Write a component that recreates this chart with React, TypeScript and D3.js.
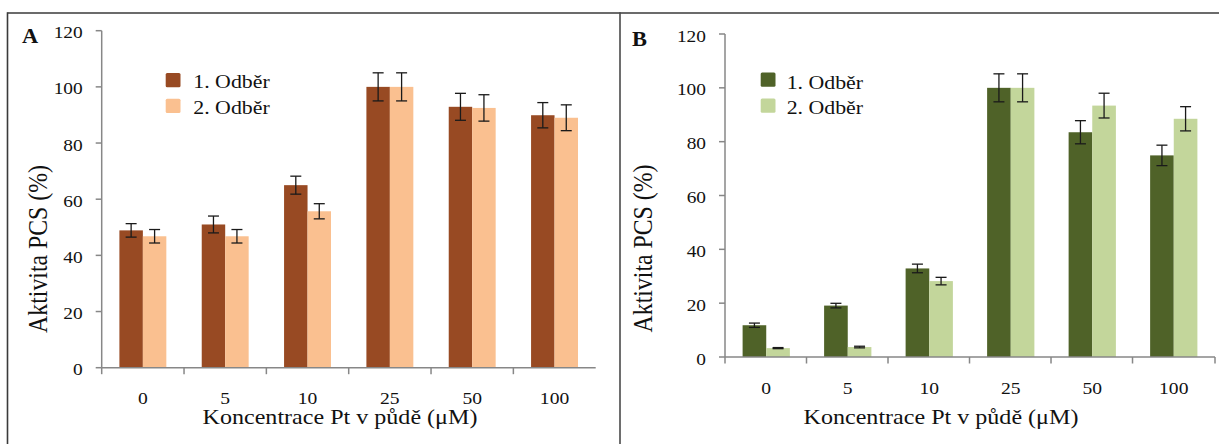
import React from 'react';
import * as d3 from 'd3';

const categories = ['0', '5', '10', '25', '50', '100'];
const seriesNames = ['1. Odběr', '2. Odběr'];
const yTicks = [0, 20, 40, 60, 80, 100, 120];

const aFirst = [48.9, 51.0, 65.0, 100.0, 92.9, 89.9];
const aFirstErr = [2.4, 3.0, 3.2, 5.0, 4.8, 4.5];
const aSecond = [46.8, 46.8, 55.7, 100.0, 92.5, 89.0];
const aSecondErr = [2.4, 2.4, 2.7, 5.0, 4.7, 4.6];

const bFirst = [11.8, 19.1, 32.9, 100.0, 83.5, 74.9];
const bFirstErr = [0.8, 0.85, 1.6, 5.2, 4.3, 3.8];
const bSecond = [3.3, 3.7, 28.2, 100.0, 93.4, 88.5];
const bSecondErr = [0.2, 0.3, 1.4, 5.2, 4.6, 4.5];

const FONT = '"Liberation Serif", "Times New Roman", serif';
const SX = 1.12;

type PanelCfg = {
  label: string;
  values: number[][];
  errors: number[][];
  colors: string[];
  x0: number; x1: number; yTop: number; yBottom: number;
  padIn: number; padOut: number;
  labelPos: [number, number];
  legend: { swX: number; swY: number[]; tx: number; ty: number[] };
  yTitle: [number, number];
  xTitle: [number, number];
  xLabelY: number;
  endTick: boolean;
};

const panels: PanelCfg[] = [
  {
    label: 'A',
    values: [aFirst, aSecond],
    errors: [aFirstErr, aSecondErr],
    colors: ['#984A23', '#FAC090'],
    x0: 101.7, x1: 595.7, yTop: 30.7, yBottom: 367.7,
    padIn: 0.43, padOut: 0.215,
    labelPos: [22, 42.5],
    legend: { swX: 165.7, swY: [73, 98.7], tx: 193.3, ty: [88.3, 114] },
    yTitle: [46.5, 249],
    xTitle: [340, 424],
    xLabelY: 404,
    endTick: false,
  },
  {
    label: 'B',
    values: [bFirst, bSecond],
    errors: [bFirstErr, bSecondErr],
    colors: ['#4F6228', '#C3D69B'],
    x0: 725, x1: 1215, yTop: 34, yBottom: 357,
    padIn: 0.42, padOut: 0.216,
    labelPos: [632, 45.5],
    legend: { swX: 760.7, swY: [72.5, 98.5], tx: 786.7, ty: [88.7, 114] },
    yTitle: [651.5, 248.5],
    xTitle: [941, 424],
    xLabelY: 394,
    endTick: true,
  },
];

function SText(props: { x: number; y: number; size: number; anchor?: string; weight?: string; rotate?: boolean; children: React.ReactNode }) {
  const { x, y, size, anchor = 'start', weight = 'normal', rotate = false, children } = props;
  return (
    <text
      transform={`translate(${x},${y}) scale(${SX},1)${rotate ? ' rotate(-90)' : ''}`}
      fontFamily={FONT}
      fontSize={size}
      fontWeight={weight}
      textAnchor={anchor}
      fill="#111"
    >
      {children}
    </text>
  );
}

function Panel({ cfg }: { cfg: PanelCfg }) {
  const x = d3.scaleBand<string>().domain(categories).range([cfg.x0, cfg.x1]).paddingInner(cfg.padIn).paddingOuter(cfg.padOut);
  const xs = d3.scaleBand<string>().domain(['0', '1']).range([0, x.bandwidth()]);
  const y = d3.scaleLinear().domain([0, 120]).range([cfg.yBottom, cfg.yTop]);
  const step = x.step();
  const boundaries = categories.map((_, i) => cfg.x0 + i * step);
  if (cfg.endTick) boundaries.push(cfg.x1);
  const axisColor = '#878787';

  return (
    <g>
      {/* bars */}
      {cfg.values.map((vals, s) =>
        vals.map((v, i) => (
          <rect
            key={`b${s}-${i}`}
            x={(x(categories[i]) as number) + (xs(String(s)) as number)}
            y={y(v)}
            width={xs.bandwidth()}
            height={y(0) - y(v)}
            fill={cfg.colors[s]}
          />
        ))
      )}
      {/* error bars */}
      {cfg.values.map((vals, s) =>
        vals.map((v, i) => {
          const cx = (x(categories[i]) as number) + (xs(String(s)) as number) + xs.bandwidth() / 2;
          const e = cfg.errors[s][i];
          const yt = y(v + e);
          const yb = y(v - e);
          return (
            <g key={`e${s}-${i}`} stroke="#1a1a1a" strokeWidth={1.3}>
              <line x1={cx} x2={cx} y1={yt} y2={yb} />
              <line x1={cx - 5.5} x2={cx + 5.5} y1={yt} y2={yt} />
              <line x1={cx - 5.5} x2={cx + 5.5} y1={yb} y2={yb} />
            </g>
          );
        })
      )}
      {/* y axis */}
      <line x1={cfg.x0} x2={cfg.x0} y1={cfg.yTop} y2={cfg.yBottom} stroke={axisColor} strokeWidth={1.5} />
      {yTicks.map((t) => (
        <g key={`yt${t}`}>
          <line x1={cfg.x0 - 6} x2={cfg.x0} y1={y(t)} y2={y(t)} stroke={axisColor} strokeWidth={1.5} />
          <SText x={cfg.x0 - 19} y={y(t) + 7.5} size={17.3} anchor="end">{t}</SText>
        </g>
      ))}
      {/* x axis */}
      <line x1={cfg.x0} x2={cfg.x1} y1={cfg.yBottom} y2={cfg.yBottom} stroke={axisColor} strokeWidth={1.5} />
      {boundaries.map((bx, i) => (
        <line key={`xt${i}`} x1={bx} x2={bx} y1={cfg.yBottom} y2={cfg.yBottom + 6.5} stroke={axisColor} strokeWidth={1.5} />
      ))}
      {categories.map((c) => (
        <SText key={`xl${c}`} x={(x(c) as number) + x.bandwidth() / 2} y={cfg.xLabelY} size={17.5} anchor="middle">{c}</SText>
      ))}
      {/* titles */}
      <SText x={cfg.yTitle[0]} y={cfg.yTitle[1]} size={23.8} anchor="middle" rotate>Aktivita PCS (%)</SText>
      <SText x={cfg.xTitle[0]} y={cfg.xTitle[1]} size={21.5} anchor="middle">Koncentrace Pt v půdě (μM)</SText>
      <SText x={cfg.labelPos[0]} y={cfg.labelPos[1]} size={20} weight="bold">{cfg.label}</SText>
      {/* legend */}
      {seriesNames.map((n, s) => (
        <g key={`lg${s}`}>
          <rect x={cfg.legend.swX} y={cfg.legend.swY[s]} width={14.8} height={14.3} rx={1.5} fill={cfg.colors[s]} />
          <SText x={cfg.legend.tx} y={cfg.legend.ty[s]} size={19.5}>{n}</SText>
        </g>
      ))}
    </g>
  );
}

export default function App() {
  return (
    <svg
      width={1219}
      height={444}
      viewBox="0 0 1219 444"
      style={{ position: 'absolute', left: 0, top: 0, background: '#fff' }}
    >
      <rect x={0} y={0} width={1219} height={444} fill="#fff" />
      {/* frame */}
      <line x1={7.5} x2={1219} y1={13} y2={13} stroke="#3a3a3a" strokeWidth={1.6} />
      <line x1={7.5} x2={7.5} y1={12.2} y2={444} stroke="#3a3a3a" strokeWidth={1.6} />
      <line x1={620} x2={620} y1={12.2} y2={444} stroke="#4a4a4a" strokeWidth={1.6} />
      {panels.map((p) => (
        <Panel key={p.label} cfg={p} />
      ))}
    </svg>
  );
}
